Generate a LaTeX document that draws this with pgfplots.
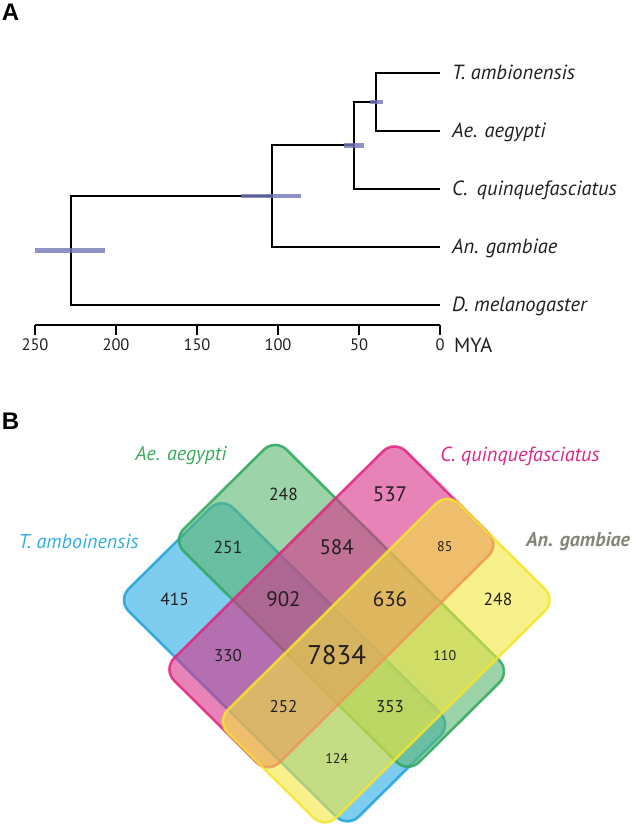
\documentclass[border=0pt]{standalone}
\usepackage{pgfplots}
\pgfplotsset{compat=1.18}
\usepackage{fontspec}
\setmainfont{PT Sans}
\newfontfamily\panelfont{Liberation Sans}
\definecolor{hpd}{HTML}{7075B8}
\definecolor{tcol}{HTML}{29ABE2}
\definecolor{tedge}{HTML}{1FA3DC}
\definecolor{aecol}{HTML}{5CB66E}
\definecolor{aeedge}{HTML}{2FA760}
\definecolor{cxcol}{HTML}{D93089}
\definecolor{cxedge}{HTML}{E2257E}
\definecolor{ancol}{HTML}{F3E63C}
\definecolor{anedge}{HTML}{F5E52E}
\definecolor{aelab}{HTML}{3AAA5E}
\definecolor{cxlab}{HTML}{D9278A}
\definecolor{tlab}{HTML}{33AEE3}
\definecolor{anlab}{HTML}{858579}
\definecolor{numcol}{HTML}{231F20}

\begin{document}
\begin{tikzpicture}[x=1pt,y=1pt]
\useasboundingbox (0pt,0pt) rectangle (633pt,831pt);
\node[anchor=center,font=\panelfont\bfseries\fontsize{24}{26}\selectfont] at (10.5pt,819pt) {A};
\node[anchor=center,font=\panelfont\bfseries\fontsize{24}{26}\selectfont] at (10.5pt,410pt) {B};

% ---------- Panel A: dated tree (x = minus age in MYA) ----------
\begin{axis}[at={(35pt,506pt)}, anchor=south west, scale only axis,
  width=405pt, height=281pt,
  xmin=-250, xmax=0, ymin=0.655, ymax=5.5,
  axis x line=bottom, axis y line=none, clip=false,
  xtick={-250,-200,-150,-100,-50,0}, xticklabels={250,200,150,100,50,0},
  tick align=outside, major tick length=10pt,
  x axis line style={-, line width=1.8pt, black},
  every tick/.style={black, line width=1.8pt},
  xticklabel style={font=\fontsize{16.5}{18}\selectfont, text=numcol},
]
\addplot[black, line width=2pt, no markers] coordinates {(0,5) (-39.8,5) (-39.8,4) (0,4)};
\addplot[black, line width=2pt, no markers] coordinates {(-39.8,4.5) (-53,4.5) (-53,3) (0,3)};
\addplot[black, line width=2pt, no markers] coordinates {(-53,3.75) (-104,3.75) (-104,2) (0,2)};
\addplot[black, line width=2pt, no markers] coordinates {(-104,2.875) (-228,2.875) (-228,1) (0,1)};
% 95% HPD bars
\addplot[fill=hpd, fill opacity=0.8, draw=none, no markers] coordinates {(-207,1.899) (-250,1.899) (-250,1.976) (-207,1.976)} -- cycle;
\addplot[fill=hpd, fill opacity=0.8, draw=none, no markers] coordinates {(-85.5,2.837) (-122.7,2.837) (-122.7,2.913) (-85.5,2.913)} -- cycle;
\addplot[fill=hpd, fill opacity=0.8, draw=none, no markers] coordinates {(-46.7,3.712) (-59,3.712) (-59,3.788) (-46.7,3.788)} -- cycle;
\addplot[fill=hpd, fill opacity=0.8, draw=none, no markers] coordinates {(-35.4,4.462) (-43.5,4.462) (-43.5,4.538) (-35.4,4.538)} -- cycle;
\begin{scope}[every node/.style={anchor=base west, inner sep=0pt, yshift=-7pt, font=\itshape\fontsize{20.5}{22}\selectfont, text=numcol}]
\node at (axis cs:7.4,5) {T. ambionensis};
\node at (axis cs:7.4,4) {Ae. aegypti};
\node at (axis cs:7.4,3) {C.\hspace{0.45em}quinquefasciatus};
\node at (axis cs:7.4,2) {An. gambiae};
\node at (axis cs:7.4,1) {D. melanogaster};
\end{scope}
\node[anchor=west, inner sep=0pt, font=\fontsize{20.5}{22}\selectfont, text=numcol] at (axis cs:8.6,0.31) {MYA};
\end{axis}

% ---------- Panel B: Venn diagram ----------
\begin{axis}[at={(0pt,0pt)}, anchor=south west, scale only axis,
  width=633pt, height=831pt, xmin=0, xmax=633, ymin=0, ymax=831,
  hide axis, clip=false]
\addplot[fill=tcol, fill opacity=0.6, draw=tedge, draw opacity=0.85, line width=2.6pt, rounded corners=16pt, no markers]
  coordinates {(336.7,220.4) (451.7,106.45) (347.4,3.1) (117.35,231) (221.7,334.35)} -- cycle;
\addplot[fill=aecol, fill opacity=0.6, draw=aeedge, draw opacity=0.85, line width=2.6pt, rounded corners=16pt, no markers]
  coordinates {(392.9,276.05) (510.6,159.45) (407.9,57.7) (172.4,290.9) (275.2,392.65)} -- cycle;
\addplot[fill=cxcol, fill opacity=0.6, draw=cxedge, draw opacity=0.85, line width=2.6pt, rounded corners=16pt, no markers]
  coordinates {(447.2,338.9) (499.9,286.65) (268.2,57.2) (162.8,161.6) (394.5,391.1)} -- cycle;
\addplot[fill=ancol, fill opacity=0.6, draw=anedge, draw opacity=0.85, line width=2.6pt, rounded corners=16pt, no markers]
  coordinates {(501.75,284.8) (556.1,231) (324.9,2.04) (216.3,109.6) (447.4,338.6)} -- cycle;
% counts
\begin{scope}[every node/.style={anchor=center, text=numcol}]
\node[font=\fontsize{17.5}{19}\selectfont] at (axis cs:283.5,337) {248};
\node[font=\fontsize{21}{23}\selectfont] at (axis cs:390,337) {537};
\node[font=\fontsize{17.5}{19}\selectfont] at (axis cs:228,284) {251};
\node[font=\fontsize{21}{23}\selectfont] at (axis cs:336.7,284) {584};
\node[font=\fontsize{14}{16}\selectfont] at (axis cs:444.8,284) {85};
\node[font=\fontsize{17.5}{19}\selectfont] at (axis cs:174.6,231.5) {415};
\node[font=\fontsize{21}{23}\selectfont] at (axis cs:283.5,231.5) {902};
\node[font=\fontsize{21}{23}\selectfont] at (axis cs:390,231.5) {636};
\node[font=\fontsize{17.5}{19}\selectfont] at (axis cs:498,231.5) {248};
\node[font=\fontsize{17}{19}\selectfont] at (axis cs:228,175.5) {330};
\node[font=\fontsize{27}{29}\selectfont] at (axis cs:336.7,176) {7834};
\node[font=\fontsize{14}{16}\selectfont] at (axis cs:444.8,175.5) {110};
\node[font=\fontsize{17}{19}\selectfont] at (axis cs:283.5,124.3) {252};
\node[font=\fontsize{17}{19}\selectfont] at (axis cs:390,124.3) {353};
\node[font=\fontsize{14}{16}\selectfont] at (axis cs:336.7,72.7) {124};
\end{scope}
% set names
\node[anchor=center, text=aelab, font=\itshape\fontsize{20}{22}\selectfont] at (axis cs:181,375) {Ae. aegypti};
\node[anchor=center, text=cxlab, font=\itshape\fontsize{20.3}{22}\selectfont] at (axis cs:520,375) {C. quinquefasciatus};
\node[anchor=center, text=tlab, font=\itshape\fontsize{20}{22}\selectfont] at (axis cs:78.5,289) {T. amboinensis};
\node[anchor=west, inner sep=0pt, text=anlab, font=\bfseries\itshape\fontsize{20}{22}\selectfont] at (axis cs:526,289) {An. gambiae};
\end{axis}
\end{tikzpicture}
\end{document}
